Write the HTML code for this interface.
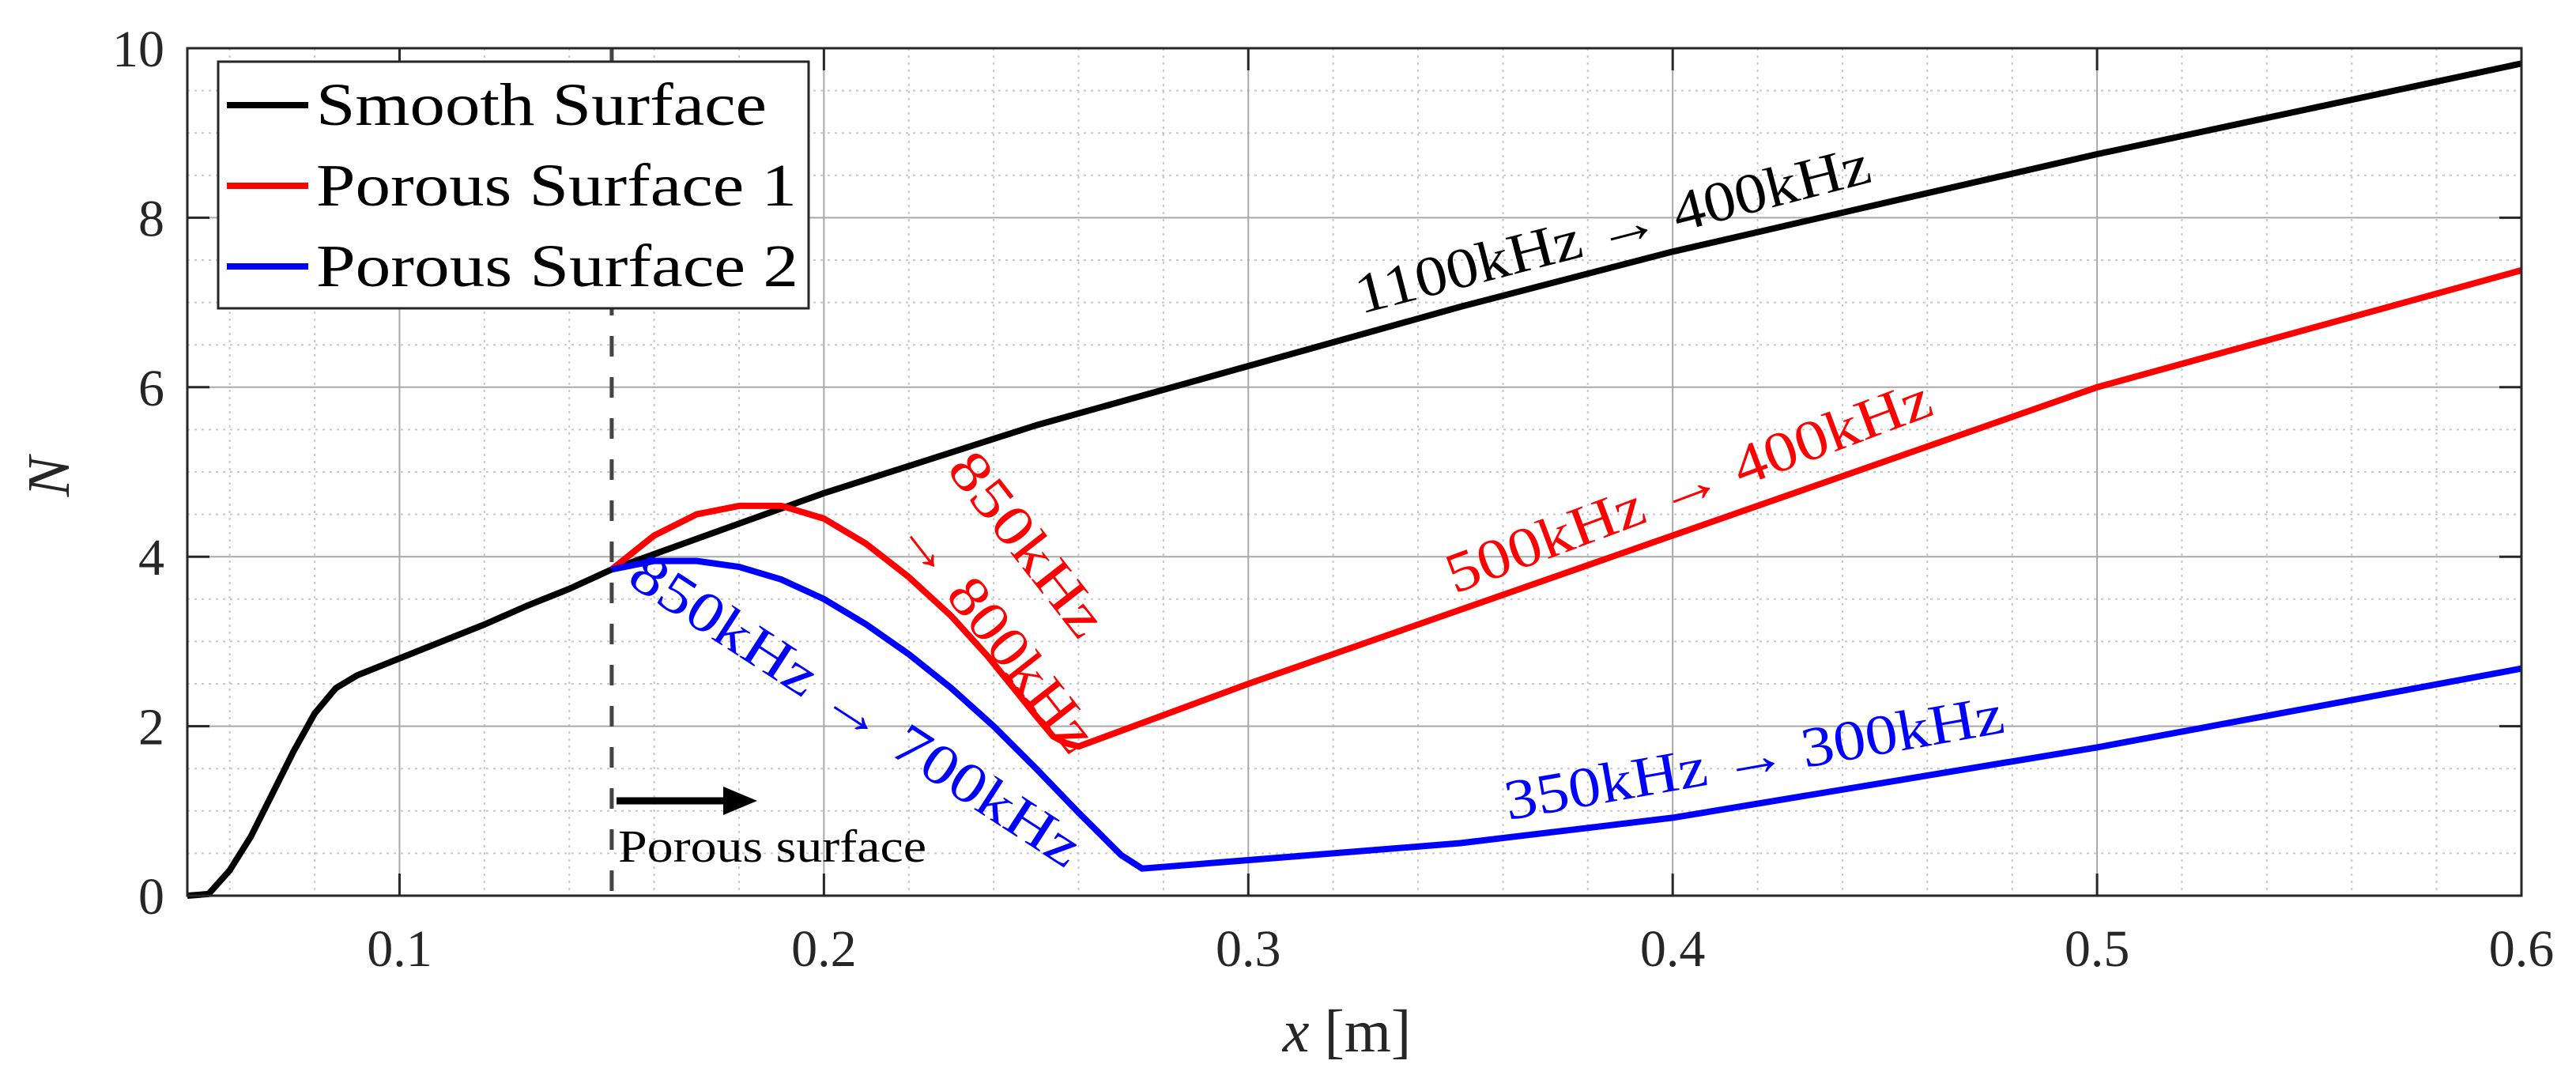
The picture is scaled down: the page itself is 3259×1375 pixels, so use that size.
<!DOCTYPE html>
<html><head><meta charset="utf-8"><style>
html,body{margin:0;padding:0;background:#fff;}
svg{display:block;font-family:"Liberation Serif",serif;}
</style></head><body>
<svg id="chart" width="3259" height="1375" viewBox="0 0 3259 1375" xmlns="http://www.w3.org/2000/svg">
<g id="grid"></g>
<g id="marks"></g>
<g id="axes"></g>
<g id="annot"></g>
</svg>
<script>
const xTicks = [0.1,0.2,0.3,0.4,0.5,0.6];
const xTickLabels = ["0.1","0.2","0.3","0.4","0.5","0.6"];
const yTicks = [0,2,4,6,8,10];
const yTickLabels = ["0","2","4","6","8","10"];
const smoothX = [0.05,0.055,0.06,0.065,0.07,0.075,0.08,0.085,0.09,0.1,0.11,0.12,0.13,0.14,0.15,0.175,0.2,0.25,0.3,0.35,0.4,0.5,0.6];
const smoothY = [0,0.02,0.3,0.7,1.2,1.7,2.15,2.45,2.6,2.8,3.0,3.2,3.42,3.62,3.85,4.3,4.75,5.55,6.25,6.95,7.6,8.75,9.82];
const porous1X = [0.15,0.16,0.17,0.18,0.19,0.2,0.21,0.22,0.23,0.2387,0.245,0.25,0.254,0.257,0.26,0.3,0.4,0.5,0.6];
const porous1Y = [3.85,4.25,4.5,4.6,4.6,4.45,4.15,3.76,3.3,2.82,2.43,2.12,1.88,1.8,1.76,2.5,4.25,6.0,7.38];
const porous2X = [0.15,0.16,0.17,0.18,0.19,0.2,0.21,0.22,0.23,0.24,0.25,0.26,0.27,0.275,0.3,0.35,0.4,0.5,0.6];
const porous2Y = [3.85,3.95,3.95,3.88,3.73,3.5,3.2,2.85,2.45,2.0,1.5,0.98,0.48,0.32,0.42,0.62,0.92,1.75,2.68];

const L=237,R=3190,T=61,B=1133;
const X0=0.05,X1=0.6,Y0=0,Y1=10;
const sx=v=>L+(v-X0)/(X1-X0)*(R-L);
const sy=v=>B-(v-Y0)/(Y1-Y0)*(B-T);
const NS="http://www.w3.org/2000/svg";
function mk(tag,attrs,parent){const e=document.createElementNS(NS,tag);for(const k in attrs)e.setAttribute(k,attrs[k]);parent.appendChild(e);return e;}
const grid=document.getElementById('grid'),marks=document.getElementById('marks'),axes=document.getElementById('axes'),annot=document.getElementById('annot');

for(let v=0.06;v<0.6-1e-9;v+=0.02){
  if(Math.abs(v*10-Math.round(v*10))<1e-6) continue;
  const l=mk('line',{x1:sx(v),x2:sx(v),y1:T,y2:B,stroke:'#c8c8c8','stroke-width':2,'stroke-dasharray':'3 6'},grid);
  
  
}
for(let v=0.5;v<10;v+=0.5){
  if(Math.abs(v-Math.round(v/2)*2)<1e-6) continue;
  const l=mk('line',{x1:L,x2:R,y1:sy(v),y2:sy(v),stroke:'#c8c8c8','stroke-width':2,'stroke-dasharray':'3 6'},grid);
  
  
}
xTicks.forEach((v,i)=>{
  const l=mk('line',{x1:sx(v),x2:sx(v),y1:T,y2:B,stroke:'#a8a8a8','stroke-width':2},grid);
  
  
  const t1=mk('line',{x1:sx(v),x2:sx(v),y1:B,y2:B-28,stroke:'#262626','stroke-width':3},axes);
  
  
  const t2=mk('line',{x1:sx(v),x2:sx(v),y1:T,y2:T+28,stroke:'#262626','stroke-width':3},axes);
  
  
  const tx=mk('text',{x:sx(v),y:1222,'font-size':66,'text-anchor':'middle',fill:'#262626'},axes);
  tx.textContent=xTickLabels[i];
  
  
});
yTicks.forEach((v,i)=>{
  const l=mk('line',{x1:L,x2:R,y1:sy(v),y2:sy(v),stroke:'#a8a8a8','stroke-width':2},grid);
  
  
  const t1=mk('line',{x1:L,x2:L+28,y1:sy(v),y2:sy(v),stroke:'#262626','stroke-width':3},axes);
  
  
  const t2=mk('line',{x1:R,x2:R-28,y1:sy(v),y2:sy(v),stroke:'#262626','stroke-width':3},axes);
  
  
  const tx=mk('text',{x:208,y:sy(v)+23,'font-size':66,'text-anchor':'end',fill:'#262626'},axes);
  tx.textContent=yTickLabels[i];
  
  
});
const frame=mk('rect',{x:L,y:T,width:R-L,height:B-T,fill:'none',stroke:'#262626','stroke-width':3},axes);



const dl=mk('line',{x1:sx(0.15),x2:sx(0.15),y1:T,y2:B,stroke:'#444','stroke-width':5,'stroke-dasharray':'26 26'},marks);



function series(xs,ys,color,name){
  const d=xs.map((x,i)=>(i?'L':'M')+sx(x).toFixed(1)+' '+sy(ys[i]).toFixed(1)).join(' ');
  const p=mk('path',{d:d,fill:'none',stroke:color,'stroke-width':8,'stroke-linejoin':'round'},marks);
  
  
}
series(smoothX,smoothY,'#000','smooth-surface-line');
series(porous1X,porous1Y,'#ff0000','porous-surface-1-line');
series(porous2X,porous2Y,'#0000ff','porous-surface-2-line');

const lg=mk('g',{},annot);


mk('rect',{x:276,y:78,width:747,height:312,fill:'#fff',stroke:'#262626','stroke-width':3},lg);
const legItems=[['Smooth Surface','#000',570],['Porous Surface 1','#ff0000',608],['Porous Surface 2','#0000ff',610]];
legItems.forEach((it,i)=>{
  const y=133+i*102;
  const ln=mk('line',{x1:287,x2:390,y1:y,y2:y,stroke:it[1],'stroke-width':8},lg);
  
  
  const t=mk('text',{x:400,y:y+25,'font-size':76,fill:'#000',textLength:it[2],lengthAdjust:'spacingAndGlyphs'},lg);
  t.textContent=it[0];
  
  
});

function label(txt,x,y,rot,color,size,len,name){
  const t=mk('text',{x:x,y:y,'font-size':size,fill:color,'text-anchor':'middle','dominant-baseline':'central',textLength:len,lengthAdjust:'spacingAndGlyphs',transform:`rotate(${rot} ${x} ${y})`},annot);
  t.textContent=txt;
  
  
}
label('1100kHz → 400kHz',2040,290,-14.5,'#000',72,670,'smooth-freq-label');
label('500kHz → 400kHz',2136,615,-20.5,'#ff0000',72,650,'porous1-freq-label');
label('350kHz → 300kHz',2219,958,-10,'#0000ff',72,640,'porous2-freq-label');
label('850kHz → 700kHz',1083,898,33,'#0000ff',72,665,'porous2-early-freq-label');
label('850kHz',1300,688,52,'#ff0000',72,275,'porous1-early-freq-label-top');
label('→ 800kHz',1262,800,52,'#ff0000',72,360,'porous1-early-freq-label-bottom');

const ar=mk('line',{x1:780,x2:920,y1:1013,y2:1013,stroke:'#000','stroke-width':9},annot);


const ah=mk('polygon',{points:'915,995 958,1013 915,1031',fill:'#000'},annot);


const pt=mk('text',{x:782,y:1090,'font-size':58,fill:'#000',textLength:390,lengthAdjust:'spacingAndGlyphs'},annot);
pt.textContent='Porous surface';



const xt=mk('text',{x:1704,y:1330,'font-size':76,'text-anchor':'middle',fill:'#262626'},axes);
xt.innerHTML='<tspan font-style="italic">x</tspan> [m]';


const yt=mk('text',{x:62,y:603,'font-size':76,'text-anchor':'middle','font-style':'italic',fill:'#262626','dominant-baseline':'central',transform:'rotate(-90 62 603)'},axes);
yt.textContent='N';


</script>
</body></html>
